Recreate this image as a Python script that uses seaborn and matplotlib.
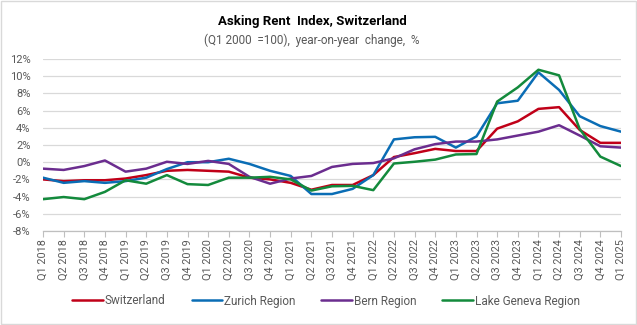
import matplotlib
matplotlib.use("Agg")
import matplotlib.pyplot as plt
import seaborn as sns
import pandas as pd
from matplotlib.patches import Rectangle

quarters = ["Q1 2018", "Q2 2018", "Q3 2018", "Q4 2018",
            "Q1 2019", "Q2 2019", "Q3 2019", "Q4 2019",
            "Q1 2020", "Q2 2020", "Q3 2020", "Q4 2020",
            "Q1 2021", "Q2 2021", "Q3 2021", "Q4 2021",
            "Q1 2022", "Q2 2022", "Q3 2022", "Q4 2022",
            "Q1 2023", "Q2 2023", "Q3 2023", "Q4 2023",
            "Q1 2024", "Q2 2024", "Q3 2024", "Q4 2024",
            "Q1 2025"]

switzerland = [-2.0, -2.2, -2.1, -2.1, -1.9, -1.5, -1.0, -0.9, -1.0, -1.1, -1.8, -2.0,
               -2.4, -3.2, -2.65, -2.65, -1.5, 0.6, 1.05, 1.55, 1.3, 1.3, 3.9, 4.75,
               6.2, 6.4, 3.75, 2.25, 2.25]
zurich = [-1.8, -2.4, -2.2, -2.4, -2.2, -1.8, -0.8, 0.0, 0.0, 0.4, -0.2, -1.0,
          -1.6, -3.7, -3.7, -3.1, -1.5, 2.65, 2.9, 2.95, 1.7, 3.0, 6.85, 7.15,
          10.45, 8.4, 5.35, 4.2, 3.55]
bern = [-0.75, -0.9, -0.45, 0.2, -1.1, -0.75, 0.05, -0.2, 0.15, -0.2, -1.7, -2.5,
        -1.9, -1.6, -0.55, -0.2, -0.1, 0.45, 1.5, 2.1, 2.4, 2.4, 2.65, 3.1,
        3.55, 4.3, 3.1, 1.85, 1.7]
lake_geneva = [-4.3, -4.05, -4.3, -3.45, -2.1, -2.5, -1.5, -2.55, -2.65, -1.8, -1.8, -1.7,
               -2.0, -3.3, -2.8, -2.75, -3.25, -0.15, 0.05, 0.3, 0.9, 0.95, 7.05, 8.7,
               10.75, 10.1, 3.85, 0.65, -0.45]

series_names = ["Switzerland", "Zurich Region", "Bern Region", "Lake Geneva Region"]
series_values = [switzerland, zurich, bern, lake_geneva]
colors = ["#C00018", "#0A6DB5", "#6B2D8F", "#138A3C"]

rows = []
for name, vals in zip(series_names, series_values):
    for i, v in enumerate(vals):
        rows.append({"idx": i, "value": v, "region": name})
df = pd.DataFrame(rows)

sns.set_theme(style="white")
plt.rcParams["font.family"] = ["Roboto", "DejaVu Sans"]

fig = plt.figure(figsize=(6.37, 3.25), dpi=100)
ax = fig.add_axes([43 / 637, 1 - 231 / 325, (621 - 43) / 637, (231 - 59) / 325])

sns.lineplot(data=df, x="idx", y="value", hue="region", hue_order=series_names,
             palette=colors, linewidth=1.8, ax=ax, legend=True)

ax.set_xlim(0, len(quarters) - 1)
ax.set_ylim(-8, 12)
ax.set_yticks(range(-8, 13, 2))
ax.set_yticklabels([f"{t}%" for t in range(-8, 13, 2)])
ax.set_xticks(range(len(quarters)))
ax.set_xticklabels(quarters, rotation=90)
ax.set_xlabel("")
ax.set_ylabel("")
ax.grid(axis="y", color="#D9D9D9", linewidth=0.9)
ax.set_axisbelow(True)
for s in ["top", "right", "left"]:
    ax.spines[s].set_visible(False)
ax.spines["bottom"].set_color("#BFBFBF")
ax.spines["bottom"].set_linewidth(0.9)
ax.tick_params(axis="x", which="both", bottom=True, length=4, width=0.8, color="#BFBFBF",
               labelsize=7.8, labelcolor="#595959", pad=2)
ax.tick_params(axis="y", left=False, labelsize=8, labelcolor="#595959", pad=3)

handles, labels = ax.get_legend_handles_labels()
ax.get_legend().remove()
fig.legend(handles, labels, loc="center", bbox_to_anchor=(0.512, 1 - 301 / 325),
           ncol=4, frameon=False, fontsize=8.5, handlelength=2.6, handletextpad=0.15,
           columnspacing=2.2, labelcolor="#595959")

fig.text(0.49, 1 - 22 / 325, "Asking Rent  Index, Switzerland", ha="center", va="center",
         fontsize=9.5, fontweight="bold", color="black")
fig.text(0.49, 1 - 40 / 325, "(Q1 2000  =100),  year-on-year  change,  %", ha="center",
         va="center", fontsize=8.5, color="#595959")

fig.patches.append(Rectangle((0.002, 0.003), 0.996, 0.994, transform=fig.transFigure,
                             fill=False, edgecolor="#D9D9D9", linewidth=1.0))

fig.savefig("out.png", dpi=100)
